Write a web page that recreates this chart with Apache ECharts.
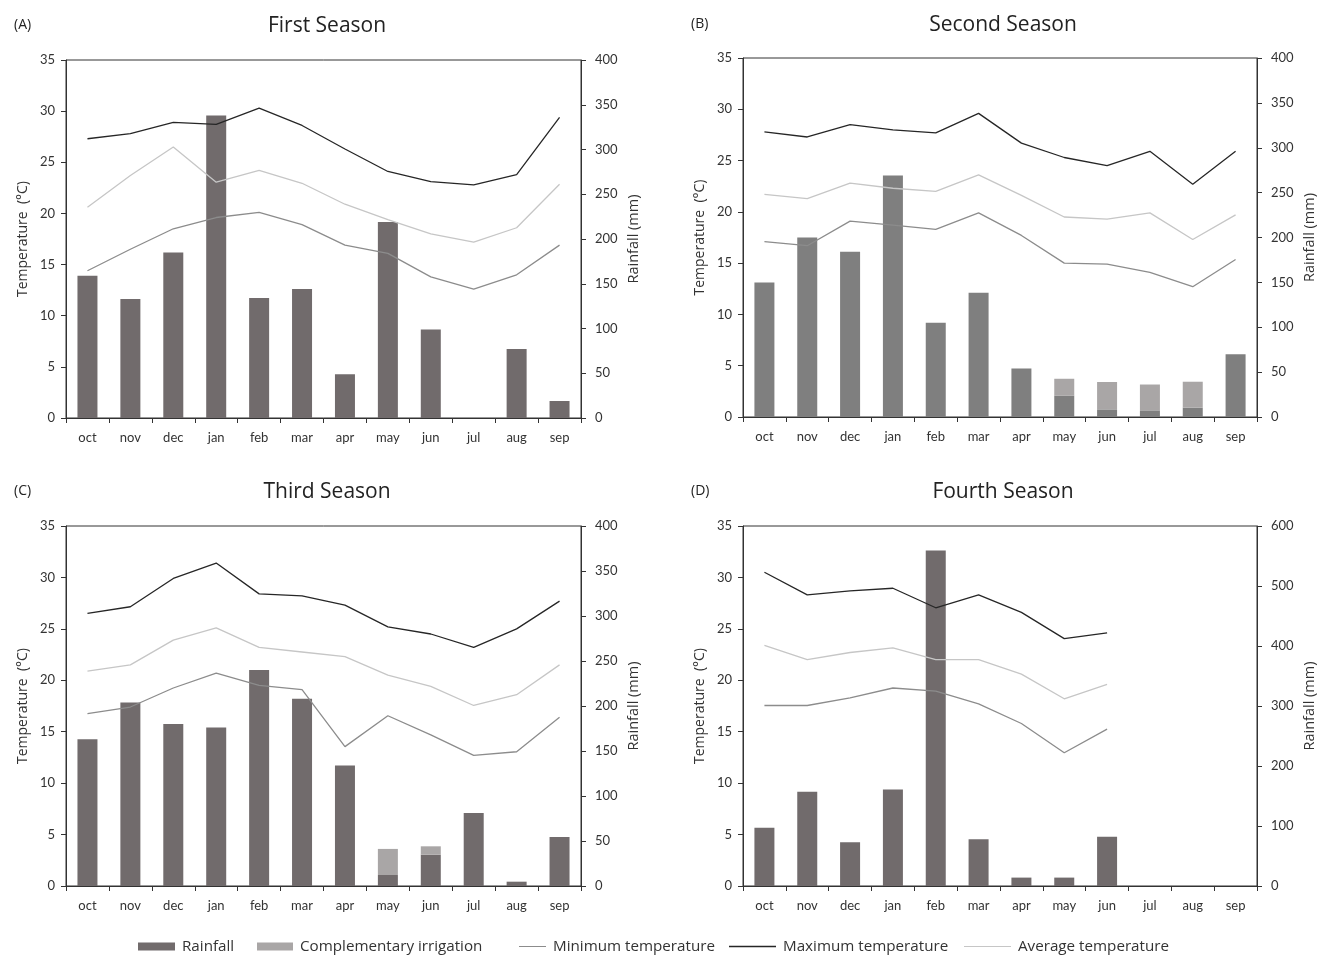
<!DOCTYPE html>
<html><head><meta charset="utf-8">
<script src="https://cdn.jsdelivr.net/npm/echarts@6/dist/echarts.min.js"></script>
<style>html,body{margin:0;padding:0;background:#fff}#c{width:1332px;height:956px}</style>
</head><body><div id="c"></div>
<script>
const months = ['oct','nov','dec','jan','feb','mar','apr','may','jun','jul','aug','sep'];

// Panel A - First Season
const rainA = [159,133,185,338,134,144,49,219,99,0,77,19];
const irrA  = [null,null,null,null,null,null,null,null,null,null,null,null];
const maxA  = [27.3,27.8,28.9,28.7,30.3,28.6,26.3,24.1,23.1,22.8,23.8,29.4];
const avgA  = [20.6,23.7,26.5,23.05,24.2,22.95,20.9,19.4,18.0,17.2,18.6,22.85];
const minA  = [14.4,16.5,18.5,19.6,20.1,18.9,16.9,16.1,13.8,12.6,14.0,16.9];

// Panel B - Second Season
const rainB = [150,200,184,269,105,138.5,54,23.6,8.5,7.4,10.3,70];
const irrB  = [null,null,null,null,null,null,null,19,30.5,28.8,29,null];
const maxB  = [27.8,27.3,28.5,28.0,27.7,29.6,26.7,25.3,24.5,25.9,22.7,25.9];
const avgB  = [21.7,21.3,22.8,22.3,22.0,23.6,21.6,19.5,19.3,19.9,17.3,19.7];
const minB  = [17.1,16.7,19.1,18.7,18.3,19.9,17.7,15.0,14.9,14.1,12.7,15.35];

// Panel C - Third Season
const rainC = [163,204,180,176,240,208,134,12.2,34.8,81,4.8,54.4];
const irrC  = [null,null,null,null,null,null,null,29,9.3,null,null,null];
const maxC  = [26.5,27.15,29.9,31.4,28.4,28.2,27.3,25.2,24.5,23.2,25.0,27.7];
const avgC  = [20.9,21.5,23.9,25.1,23.2,22.75,22.3,20.5,19.4,17.55,18.6,21.5];
const minC  = [16.75,17.4,19.25,20.7,19.5,19.1,13.55,16.55,14.7,12.7,13.05,16.4];

// Panel D - Fourth Season
const rainD = [97,157,73,161,559,78,14,14,82,null,null,null];
const irrD  = [null,null,null,null,null,null,null,null,null,null,null,null];
const maxD  = [30.5,28.3,28.7,28.95,27.05,28.3,26.6,24.05,24.6,null,null,null];
const avgD  = [23.4,22.0,22.7,23.15,22.0,22.0,20.6,18.2,19.6,null,null,null];
const minD  = [17.55,17.55,18.3,19.25,18.95,17.7,15.8,12.95,15.25,null,null,null];

const tempTicks = {min:0, max:35, interval:5};
const rainTicksABC = {min:0, max:400, interval:50};
const rainTicksD = {min:0, max:600, interval:100};

const FONT = 'Lato';
const FONT2 = 'Open Sans';
const panels = [
  {tag:'(A)', title:'First Season',  rain:rainA, irr:irrA, tmax:maxA, tavg:avgA, tmin:minA, rt:rainTicksABC, g:{left:66, top:60, width:515, height:358}, bar:'#716b6c', tc:322, tt:11},
  {tag:'(B)', title:'Second Season', rain:rainB, irr:irrB, tmax:maxB, tavg:avgB, tmin:minB, rt:rainTicksABC, g:{left:743, top:58, width:514, height:359}, bar:'#7f7f7f', tc:998, tt:10},
  {tag:'(C)', title:'Third Season',  rain:rainC, irr:irrC, tmax:maxC, tavg:avgC, tmin:minC, rt:rainTicksABC, g:{left:66, top:526, width:515, height:360}, bar:'#716b6c', tc:322, tt:477},
  {tag:'(D)', title:'Fourth Season', rain:rainD, irr:irrD, tmax:maxD, tavg:avgD, tmin:minD, rt:rainTicksD, g:{left:743, top:526, width:514, height:360}, bar:'#716b6c', tc:998, tt:477}
];

const axisLine = {show:true, lineStyle:{color:'#333', width:1}};
const labelStyle = {color:'#333', fontSize:13, fontFamily:FONT};
const option = {animation:false, backgroundColor:'#fff', title:[], grid:[], xAxis:[], yAxis:[], series:[], legend:[]};

panels.forEach((p,i)=>{
  option.title.push({text:p.tag, left:p.g.left-57, top:p.tt+2, textStyle:{fontSize:14, fontWeight:'normal', color:'#222', fontFamily:FONT2}});
  option.title.push({text:p.title, left:p.tc, top:p.tt, textAlign:'center', textStyle:{fontSize:21, fontWeight:'normal', color:'#222', fontFamily:FONT2}});
  option.grid.push(Object.assign({show:true, borderColor:'#333', borderWidth:1, backgroundColor:'transparent', containLabel:false}, p.g));
  option.xAxis.push({type:'category', gridIndex:i, data:months, boundaryGap:true,
    axisLine:axisLine, axisTick:{show:true, inside:false, length:5, alignWithLabel:false, lineStyle:{color:'#333'}},
    axisLabel:Object.assign({margin:13, interval:0}, labelStyle), splitLine:{show:false}});
  option.yAxis.push(Object.assign({type:'value', gridIndex:i, position:'left', name:'Temperature  (\u00B0C)', nameLocation:'middle', nameRotate:90, nameGap:36,
    nameTextStyle:{fontSize:14, color:'#333', fontFamily:FONT2},
    axisLine:axisLine, axisTick:{show:true, length:5, lineStyle:{color:'#333'}}, axisLabel:Object.assign({margin:11}, labelStyle), splitLine:{show:false}}, tempTicks));
  option.yAxis.push(Object.assign({type:'value', gridIndex:i, position:'right', name:'Rainfall (mm)', nameLocation:'middle', nameRotate:90, nameGap:45,
    nameTextStyle:{fontSize:14.5, color:'#333', fontFamily:FONT2},
    axisLine:axisLine, axisTick:{show:true, length:5, lineStyle:{color:'#333'}}, axisLabel:Object.assign({margin:14}, labelStyle), splitLine:{show:false}}, p.rt));
  const stack = 's'+i;
  option.series.push({name:'Rainfall', type:'bar', xAxisIndex:i, yAxisIndex:2*i+1, stack:stack, data:p.rain, barWidth:20, itemStyle:{color:p.bar}, z:2});
  option.series.push({name:'Complementary irrigation', type:'bar', xAxisIndex:i, yAxisIndex:2*i+1, stack:stack, data:p.irr, barWidth:20, itemStyle:{color:'#a9a6a6'}, z:2});
  option.series.push({name:'Minimum temperature', type:'line', xAxisIndex:i, yAxisIndex:2*i, data:p.tmin, symbol:'none', lineStyle:{color:'#8c8c8c', width:1.3}, itemStyle:{color:'#8c8c8c'}, z:3});
  option.series.push({name:'Maximum temperature', type:'line', xAxisIndex:i, yAxisIndex:2*i, data:p.tmax, symbol:'none', lineStyle:{color:'#262626', width:1.3}, itemStyle:{color:'#262626'}, z:3});
  option.series.push({name:'Average temperature', type:'line', xAxisIndex:i, yAxisIndex:2*i, data:p.tavg, symbol:'none', lineStyle:{color:'#c6c6c6', width:1.3}, itemStyle:{color:'#c6c6c6'}, z:3});
});

const legText = {fontSize:15.2, color:'#333', fontFamily:FONT2};
const legs = [
  {name:'Rainfall', left:138, w:37, h:8},
  {name:'Complementary irrigation', left:257, w:36, h:8},
  {name:'Minimum temperature', left:519, w:27, h:1},
  {name:'Maximum temperature', left:729, w:47, h:1.3},
  {name:'Average temperature', left:964, w:47, h:1}
];
legs.forEach(l=>{
  option.legend.push({data:[l.name], left:l.left, top:939, icon:'rect', itemWidth:l.w, itemHeight:l.h, itemGap:0, textStyle:Object.assign({padding:[0,0,0,2]}, legText), selectedMode:false, padding:0});
});

const chart = echarts.init(document.getElementById('c'), null, {renderer:'canvas'});
chart.setOption(option);
</script></body></html>
